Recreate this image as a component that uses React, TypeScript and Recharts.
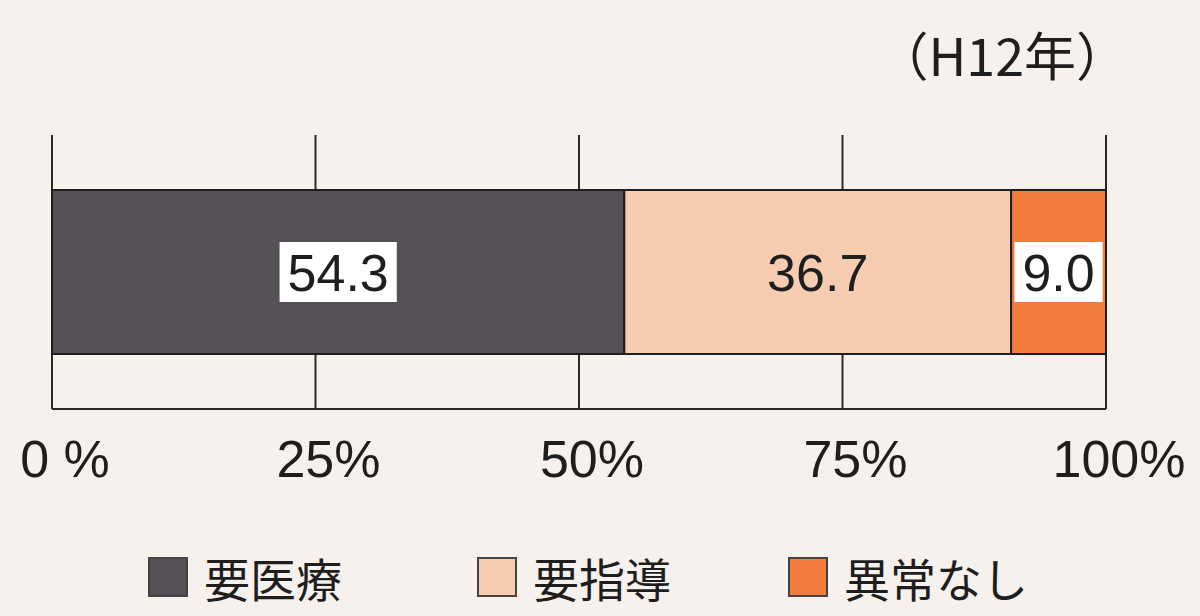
import { BarChart, Bar, XAxis, YAxis, CartesianGrid, LabelList } from "recharts";

const categories = ["H12"];
const seriesNames = ["要医療", "要指導", "異常なし"];
const seriesKeys = ["medical", "guidance", "normal"];
const medicalValues = [54.3];
const guidanceValues = [36.7];
const normalValues = [9.0];
const tickValues = [0, 25, 50, 75, 100];
const tickLabels = ["0 %", "25%", "50%", "75%", "100%"];
const title = "（H12年）";

const colors = ["#545056", "#f7cdb2", "#f27b3e"];
const boxed = [true, false, true];
const FONT = "'Liberation Sans', Arial, 'Noto Sans CJK JP', sans-serif";
const JP_FONT = "'Noto Sans CJK JP', 'Liberation Sans', sans-serif";

const data = categories.map((c, i) => ({
  name: c,
  medical: medicalValues[i],
  guidance: guidanceValues[i],
  normal: normalValues[i],
}));

// rough Arial widths: digits 0.556em, dot 0.278em
function textWidth(s: string, fs: number) {
  let w = 0;
  for (const ch of s) w += ch === "." ? 0.278 : 0.556;
  return w * fs;
}

function makeLabel(withBox: boolean) {
  return (props: any) => {
    const { x, y, width, height, value } = props;
    const cx = x + width / 2;
    const cy = y + height / 2;
    const text = Number(value).toFixed(1);
    const fs = 52;
    const tw = textWidth(text, fs);
    return (
      <g>
        {withBox && (
          <rect
            x={cx - tw / 2 - 8}
            y={cy - 30}
            width={tw + 16}
            height={60}
            fill="#ffffff"
          />
        )}
        <text
          x={cx}
          y={cy + 19}
          textAnchor="middle"
          fontSize={fs}
          fontFamily={FONT}
          fill="#1e1e1e"
        >
          {text}
        </text>
      </g>
    );
  };
}

function renderTick(props: any) {
  const { x, y, payload } = props;
  const idx = tickValues.indexOf(payload.value);
  return (
    <text
      x={x + 13}
      y={y + 68}
      textAnchor="middle"
      fontSize={52}
      fontFamily={FONT}
      fill="#1e1e1e"
    >
      {tickLabels[idx]}
    </text>
  );
}

const legendX = [148, 477, 788];

export default function App() {
  return (
    <div
      style={{
        position: "absolute",
        left: 0,
        top: 0,
        width: 1200,
        height: 616,
        background: "#f6f1ec",
        overflow: "hidden",
      }}
    >
      <div
        style={{
          position: "absolute",
          right: 72,
          top: 16,
          fontSize: 52,
          fontFamily: JP_FONT,
          color: "#1e1e1e",
          lineHeight: "76px",
        }}
      >
        {title}
      </div>
      <BarChart
        width={1200}
        height={616}
        data={data}
        layout="vertical"
        margin={{ top: 135, right: 94, left: 52, bottom: 147 }}
        barSize={164}
      >
        <CartesianGrid
          horizontal={false}
          vertical={true}
          stroke="#2a2a2a"
          strokeWidth={2}
          fill="none"
        />
        <XAxis
          type="number"
          domain={[0, 100]}
          ticks={tickValues}
          tick={renderTick}
          tickLine={false}
          tickSize={0}
          tickMargin={0}
          height={60}
          axisLine={{ stroke: "#2a2a2a", strokeWidth: 2 }}
          interval={0}
        />
        <YAxis type="category" dataKey="name" hide />
        {seriesKeys.map((k, i) => (
          <Bar
            key={k}
            dataKey={k}
            name={seriesNames[i]}
            stackId="a"
            fill={colors[i]}
            stroke="#1e1e1e"
            strokeWidth={2}
            isAnimationActive={false}
          >
            <LabelList dataKey={k} content={makeLabel(boxed[i])} />
          </Bar>
        ))}
      </BarChart>
      {seriesNames.map((n, i) => (
        <div
          key={n}
          style={{
            position: "absolute",
            left: legendX[i],
            top: 550,
            display: "flex",
            alignItems: "center",
            fontFamily: JP_FONT,
            fontSize: 46,
            color: "#1e1e1e",
            lineHeight: "54px",
          }}
        >
          <span
            style={{
              display: "inline-block",
              width: 40,
              height: 40,
              background: colors[i],
              border: "2px solid #444",
              boxSizing: "border-box",
              marginRight: 16,
            }}
          />
          {n}
        </div>
      ))}
    </div>
  );
}
